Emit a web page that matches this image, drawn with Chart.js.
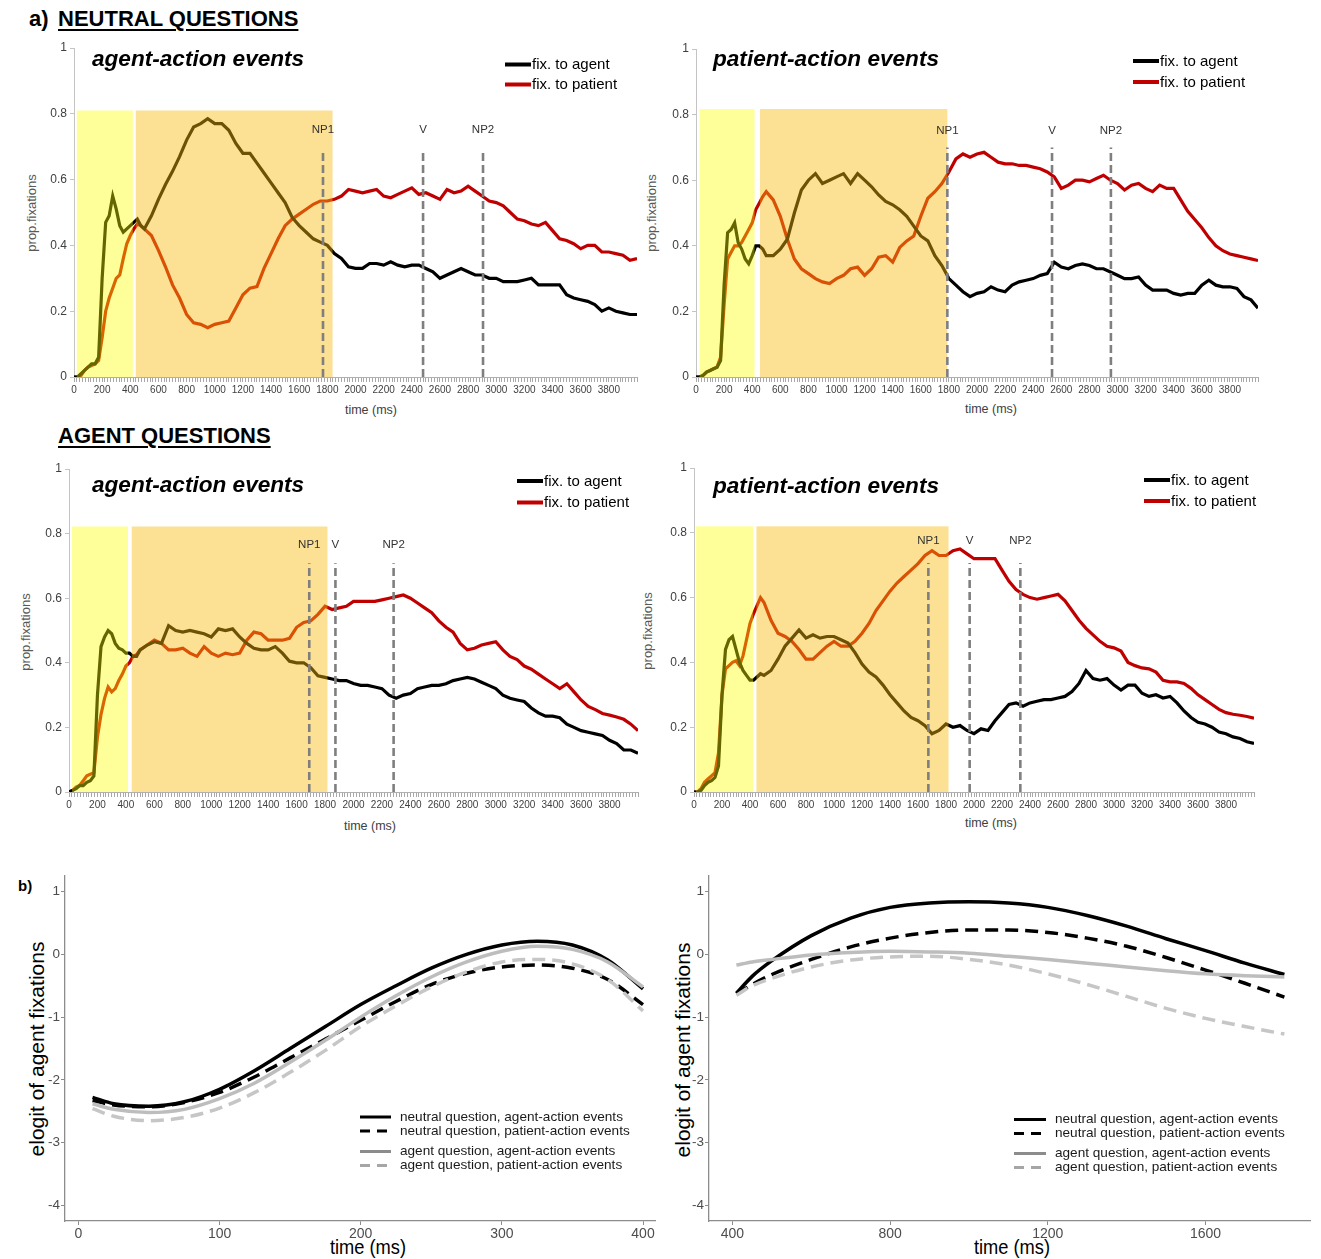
<!DOCTYPE html>
<html>
<head>
<meta charset="utf-8">
<script src="https://cdn.jsdelivr.net/npm/chart.js@4.4.1/dist/chart.umd.min.js"></script>
<style>
  html, body { margin: 0; padding: 0; background: #fff; }
  body { width: 1321px; height: 1259px; position: relative; overflow: hidden;
         font-family: "Liberation Sans", Arial, sans-serif; }
  .box { position: absolute; }
  .txt { position: absolute; white-space: nowrap; color: #000; line-height: 1.15; }
  .c { transform: translate(-50%, -50%); }
  .v { transform: translate(-50%, -50%) rotate(-90deg); }
  .head { font-weight: bold; font-size: 22px; }
  .u { text-decoration: underline; text-decoration-thickness: 2px; text-underline-offset: 3px; }
</style>
</head>
<body>

<div class="txt head" style="left:29px;top:6px;">a)</div>
<div class="txt head u" style="left:58px;top:6px;">NEUTRAL QUESTIONS</div>
<div class="txt head u" style="left:58px;top:423px;">AGENT QUESTIONS</div>
<div class="txt" style="left:18px;top:877px;font-weight:bold;font-size:15px;">b)</div>

<div class="txt v" style="left:32px;top:213px;font-size:13px;color:#595959;">prop.fixations</div>
<div class="txt v" style="left:652px;top:213px;font-size:13px;color:#595959;">prop.fixations</div>
<div class="txt v" style="left:26px;top:632px;font-size:13px;color:#595959;">prop.fixations</div>
<div class="txt v" style="left:648px;top:631px;font-size:13px;color:#595959;">prop.fixations</div>

<div class="txt c" style="left:371px;top:410px;font-size:12.5px;color:#404040;">time (ms)</div>
<div class="txt c" style="left:991px;top:409px;font-size:12.5px;color:#404040;">time (ms)</div>
<div class="txt c" style="left:370px;top:826px;font-size:12.5px;color:#404040;">time (ms)</div>
<div class="txt c" style="left:991px;top:823px;font-size:12.5px;color:#404040;">time (ms)</div>

<div class="txt v" style="left:37px;top:1049px;font-size:21px;">elogit of agent fixations</div>
<div class="txt v" style="left:683px;top:1050px;font-size:21px;">elogit of agent fixations</div>
<div class="txt c" style="left:368px;top:1247px;font-size:21px;transform:translate(-50%,-50%) scaleX(0.87);">time (ms)</div>
<div class="txt c" style="left:1012px;top:1247px;font-size:21px;transform:translate(-50%,-50%) scaleX(0.87);">time (ms)</div>

<div id="p1" class="box"><canvas></canvas></div>
<div id="p2" class="box"><canvas></canvas></div>
<div id="p3" class="box"><canvas></canvas></div>
<div id="p4" class="box"><canvas></canvas></div>
<div id="b1" class="box"><canvas></canvas></div>
<div id="b2" class="box"><canvas></canvas></div>

<script>
// ---------- time grid of the fixation curves (ms) ----------
const timeMs = [0,25,50,75,100,125,150,175,200,225,250,275,300,325,350,375,400,425,450,475,500,
  550,600,650,700,750,800,850,900,950,1000,
  1050,1100,1150,1200,1250,1300,1350,1400,1450,1500,
  1550,1600,1650,1700,1750,1800,1850,1900,1950,2000,
  2050,2100,2150,2200,2250,2300,2350,2400,2450,2500,
  2550,2600,2650,2700,2750,2800,2850,2900,2950,3000,
  3050,3100,3150,3200,3250,3300,3350,3400,3450,3500,
  3550,3600,3650,3700,3750,3800,3850,3900,3950,4000];

// ---------- neutral questions, agent-action events ----------
const nqAgentEvtToAgent = [0,0,0.01,0.02,0.03,0.04,0.04,0.06,0.30,0.47,0.49,0.55,0.51,0.46,0.44,0.45,0.46,0.47,0.48,0.46,0.45,
  0.49,0.54,0.585,0.625,0.67,0.72,0.76,0.77,0.785,0.77,
  0.77,0.75,0.71,0.68,0.68,0.65,0.62,0.59,0.56,0.53,
  0.485,0.46,0.44,0.42,0.41,0.40,0.375,0.36,0.335,0.33,
  0.33,0.345,0.345,0.34,0.35,0.34,0.335,0.34,0.34,0.33,
  0.32,0.30,0.31,0.32,0.33,0.32,0.31,0.31,0.30,0.30,
  0.29,0.29,0.29,0.295,0.30,0.28,0.28,0.28,0.28,0.25,
  0.24,0.235,0.23,0.22,0.20,0.21,0.20,0.195,0.19,0.19];
const nqAgentEvtToPatient = [0,0,0.005,0.02,0.03,0.035,0.04,0.05,0.12,0.20,0.24,0.27,0.30,0.31,0.36,0.405,0.43,0.45,0.465,0.46,0.45,
  0.43,0.385,0.335,0.28,0.24,0.19,0.165,0.16,0.15,0.16,
  0.165,0.17,0.21,0.25,0.27,0.275,0.33,0.375,0.42,0.46,
  0.48,0.495,0.51,0.525,0.535,0.535,0.54,0.55,0.57,0.565,
  0.56,0.565,0.57,0.55,0.545,0.555,0.565,0.575,0.555,0.56,
  0.55,0.54,0.57,0.56,0.565,0.58,0.565,0.55,0.535,0.53,
  0.52,0.50,0.48,0.475,0.465,0.46,0.47,0.445,0.42,0.415,
  0.405,0.39,0.40,0.40,0.38,0.38,0.375,0.37,0.355,0.36];

// ---------- neutral questions, patient-action events ----------
const nqPatientEvtToAgent = [0,0,0.005,0.015,0.02,0.025,0.03,0.05,0.28,0.44,0.45,0.47,0.41,0.39,0.36,0.345,0.37,0.40,0.40,0.39,0.37,
  0.37,0.39,0.42,0.50,0.57,0.60,0.62,0.59,0.60,0.61,
  0.62,0.59,0.62,0.60,0.58,0.555,0.535,0.525,0.51,0.49,
  0.46,0.43,0.415,0.37,0.34,0.30,0.28,0.26,0.245,0.255,
  0.26,0.275,0.265,0.26,0.28,0.29,0.295,0.30,0.31,0.315,
  0.35,0.335,0.33,0.34,0.345,0.34,0.33,0.33,0.32,0.31,
  0.30,0.30,0.305,0.28,0.265,0.265,0.265,0.255,0.25,0.255,
  0.255,0.28,0.295,0.28,0.275,0.275,0.27,0.245,0.235,0.21];
const nqPatientEvtToPatient = [0,0,0.005,0.015,0.02,0.025,0.03,0.06,0.22,0.36,0.38,0.40,0.40,0.41,0.43,0.45,0.47,0.51,0.53,0.55,0.565,
  0.54,0.49,0.42,0.36,0.33,0.315,0.30,0.29,0.285,0.30,
  0.31,0.33,0.335,0.31,0.33,0.365,0.37,0.35,0.395,0.415,
  0.43,0.49,0.545,0.565,0.59,0.625,0.665,0.68,0.67,0.68,
  0.685,0.67,0.655,0.65,0.65,0.645,0.645,0.64,0.635,0.625,
  0.61,0.575,0.585,0.60,0.60,0.595,0.605,0.615,0.60,0.59,
  0.57,0.585,0.59,0.575,0.565,0.585,0.575,0.575,0.54,0.505,
  0.48,0.455,0.425,0.40,0.385,0.375,0.37,0.365,0.36,0.355];

// ---------- agent questions, agent-action events ----------
const aqAgentEvtToAgent = [0,0.005,0.01,0.02,0.02,0.03,0.035,0.05,0.30,0.45,0.48,0.50,0.49,0.46,0.445,0.44,0.43,0.43,0.42,0.42,0.44,
  0.455,0.465,0.46,0.515,0.50,0.495,0.50,0.495,0.49,0.48,
  0.505,0.50,0.505,0.48,0.46,0.445,0.44,0.44,0.45,0.43,
  0.405,0.40,0.40,0.385,0.36,0.355,0.35,0.345,0.345,0.336,
  0.33,0.33,0.325,0.32,0.30,0.29,0.30,0.305,0.32,0.325,
  0.33,0.33,0.335,0.345,0.35,0.355,0.35,0.34,0.33,0.32,
  0.30,0.29,0.285,0.28,0.26,0.245,0.235,0.235,0.23,0.21,
  0.20,0.19,0.185,0.18,0.175,0.16,0.15,0.13,0.13,0.12];
const aqAgentEvtToPatient = [0,0.005,0.015,0.02,0.035,0.05,0.055,0.06,0.17,0.24,0.29,0.325,0.31,0.32,0.345,0.365,0.39,0.40,0.42,0.425,0.44,
  0.455,0.47,0.46,0.44,0.44,0.445,0.43,0.42,0.45,0.43,
  0.42,0.43,0.425,0.43,0.47,0.495,0.49,0.47,0.47,0.47,
  0.476,0.51,0.525,0.53,0.55,0.575,0.565,0.57,0.575,0.59,
  0.59,0.59,0.59,0.595,0.60,0.605,0.61,0.60,0.585,0.57,
  0.555,0.53,0.51,0.495,0.46,0.44,0.445,0.455,0.46,0.465,
  0.44,0.42,0.41,0.39,0.38,0.365,0.35,0.335,0.32,0.335,
  0.31,0.285,0.265,0.255,0.243,0.238,0.232,0.225,0.21,0.19];

// ---------- agent questions, patient-action events ----------
const aqPatientEvtToAgent = [0,0,0.005,0.02,0.03,0.035,0.045,0.08,0.30,0.44,0.47,0.48,0.44,0.40,0.375,0.36,0.345,0.345,0.355,0.365,0.36,
  0.375,0.41,0.45,0.475,0.50,0.475,0.485,0.475,0.48,0.48,
  0.47,0.46,0.43,0.395,0.37,0.355,0.33,0.30,0.275,0.25,
  0.23,0.22,0.205,0.18,0.19,0.21,0.20,0.205,0.19,0.18,
  0.195,0.19,0.22,0.245,0.27,0.275,0.265,0.275,0.28,0.285,
  0.285,0.29,0.295,0.31,0.335,0.375,0.35,0.345,0.35,0.33,
  0.315,0.33,0.33,0.305,0.295,0.30,0.29,0.295,0.275,0.25,
  0.23,0.215,0.21,0.20,0.185,0.18,0.17,0.165,0.155,0.15];
const aqPatientEvtToPatient = [0,0,0.01,0.03,0.04,0.05,0.06,0.12,0.30,0.38,0.39,0.40,0.405,0.39,0.42,0.47,0.52,0.55,0.575,0.60,0.585,
  0.53,0.49,0.48,0.465,0.44,0.41,0.41,0.43,0.45,0.465,
  0.45,0.45,0.465,0.49,0.52,0.56,0.59,0.62,0.645,0.665,
  0.685,0.705,0.73,0.745,0.73,0.73,0.745,0.75,0.735,0.72,
  0.72,0.72,0.72,0.685,0.65,0.625,0.61,0.60,0.595,0.60,
  0.605,0.61,0.59,0.56,0.53,0.505,0.485,0.465,0.45,0.445,
  0.435,0.40,0.39,0.383,0.38,0.37,0.345,0.34,0.34,0.335,
  0.32,0.30,0.285,0.27,0.255,0.245,0.24,0.237,0.233,0.228];

// ---------- analysis windows (ms) and sentence-region onsets (ms) ----------
const nqAgentWindows   = [[20, 418], [439, 1837]];
const nqPatientWindows = [[25, 417], [455, 1789]];
const aqAgentWindows   = [[21, 415], [441, 1817]];
const aqPatientWindows = [[15, 422], [446, 1818]];
const onsetLabels = ['NP1', 'V', 'NP2'];
const nqAgentOnsets   = [1769, 2480, 2906];
const nqPatientOnsets = [1789, 2534, 2953];
const aqAgentOnsets   = [1689, 1873, 2282];
const aqPatientOnsets = [1674, 1969, 2331];

// ---------- axis ticks ----------
const propTicks = [0, 0.2, 0.4, 0.6, 0.8, 1];
const timeTickLabels = [0,200,400,600,800,1000,1200,1400,1600,1800,2000,2200,2400,2600,2800,3000,3200,3400,3600,3800];
const elogitTicks = [-4, -3, -2, -1, 0, 1];
const earlyTimeTicks = [0, 100, 200, 300, 400];
const lateTimeTicks = [400, 800, 1200, 1600];

// ---------- model curves: elogit of agent fixations ----------
const earlyTime = [10,25,50,75,100,125,150,175,200,225,250,275,300,325,350,375,400];
const earlyNqAgentEvt   = [-2.28,-2.38,-2.42,-2.35,-2.15,-1.85,-1.50,-1.15,-0.80,-0.50,-0.22,0.00,0.15,0.21,0.15,-0.09,-0.55];
const earlyNqPatientEvt = [-2.33,-2.40,-2.43,-2.36,-2.20,-1.95,-1.65,-1.35,-1.05,-0.75,-0.48,-0.30,-0.20,-0.17,-0.22,-0.40,-0.80];
const earlyAqAgentEvt   = [-2.38,-2.47,-2.52,-2.47,-2.30,-2.05,-1.72,-1.37,-1.00,-0.66,-0.36,-0.12,0.05,0.13,0.08,-0.12,-0.52];
const earlyAqPatientEvt = [-2.46,-2.58,-2.65,-2.60,-2.45,-2.20,-1.88,-1.53,-1.15,-0.82,-0.52,-0.28,-0.12,-0.08,-0.15,-0.40,-0.90];

const lateTime = [410,450,500,600,700,800,900,1000,1100,1200,1300,1400,1500,1600,1700,1800];
const lateNqAgentEvt   = [-0.62,-0.35,-0.10,0.30,0.58,0.75,0.82,0.84,0.82,0.75,0.62,0.45,0.25,0.06,-0.14,-0.32];
const lateNqPatientEvt = [-0.63,-0.48,-0.32,-0.08,0.12,0.26,0.35,0.39,0.39,0.35,0.26,0.13,-0.05,-0.25,-0.46,-0.68];
const lateAqAgentEvt   = [-0.17,-0.12,-0.08,-0.01,0.03,0.05,0.04,0.02,-0.03,-0.08,-0.14,-0.20,-0.26,-0.31,-0.34,-0.36];
const lateAqPatientEvt = [-0.65,-0.50,-0.38,-0.20,-0.09,-0.04,-0.03,-0.08,-0.17,-0.31,-0.48,-0.67,-0.86,-1.02,-1.15,-1.27];

// ---------- drawing helpers ----------
const SANS = '"Liberation Sans", Arial, sans-serif';
const BLACK = '#000000';
const RED = '#c00000';

function placeBox(id, plot, yW, xH, padT, padR) {
  const el = document.getElementById(id);
  const left = plot.l - yW, top = plot.t - padT;
  el.style.left = left + 'px';
  el.style.top = top + 'px';
  el.style.width = (plot.r - plot.l + yW + padR) + 'px';
  el.style.height = (plot.b - plot.t + padT + xH) + 'px';
  return { left, top };
}

// Overlays for the fixation panels: tinted analysis windows, onset markers, title, legend.
function fixationDecor(origin, cfg) {
  return {
    id: 'fixationDecor',
    afterDatasetsDraw(chart) {
      const { ctx, chartArea: a, scales: { x, y } } = chart;
      ctx.save();
      ctx.beginPath();
      ctx.rect(a.left, a.top, a.right - a.left, a.bottom - a.top);
      ctx.clip();
      cfg.windows.forEach((w, i) => {
        const x0 = x.getPixelForValue(w[0]), x1 = x.getPixelForValue(w[1]);
        const y0 = y.getPixelForValue(cfg.windowTop), y1 = y.getPixelForValue(0);
        ctx.fillStyle = i === 0 ? 'rgba(255,255,0,0.40)' : 'rgba(248,184,9,0.44)';
        ctx.fillRect(x0, y0, x1 - x0, y1 - y0);
      });
      ctx.restore();

      ctx.save();
      ctx.strokeStyle = '#7f7f7f';
      ctx.lineWidth = 2.6;
      ctx.setLineDash([8, 4]);
      ctx.font = '11.5px ' + SANS;
      ctx.textAlign = 'center';
      ctx.textBaseline = 'middle';
      cfg.onsets.forEach((t, i) => {
        const px = x.getPixelForValue(t);
        ctx.beginPath();
        ctx.moveTo(px, y.getPixelForValue(0));
        ctx.lineTo(px, y.getPixelForValue(cfg.markerTop));
        ctx.stroke();
        ctx.fillStyle = '#333333';
        ctx.fillText(onsetLabels[i], px, y.getPixelForValue(cfg.labelAt));
      });
      ctx.restore();

      ctx.save();
      ctx.fillStyle = '#000';
      ctx.font = 'italic bold 22.6px ' + SANS;
      ctx.textBaseline = 'alphabetic';
      ctx.fillText(cfg.title, cfg.titleAt[0] - origin.left, cfg.titleAt[1] - origin.top);
      ctx.font = '15px ' + SANS;
      ctx.textBaseline = 'middle';
      chart.data.datasets.forEach((ds, i) => {
        const lx = cfg.legendAt[0] - origin.left;
        const ly = cfg.legendAt[1] + i * cfg.legendRow - origin.top;
        ctx.strokeStyle = ds.borderColor;
        ctx.lineWidth = 4;
        ctx.beginPath();
        ctx.moveTo(lx, ly);
        ctx.lineTo(lx + 26, ly);
        ctx.stroke();
        ctx.fillStyle = '#000';
        ctx.fillText(ds.label, lx + 27, ly + 0.5);
      });
      ctx.restore();
    }
  };
}

function fixationChart(id, plot, toAgent, toPatient, cfg) {
  const yW = 45, xH = 40, padT = 12, padR = 12;
  const origin = placeBox(id, plot, yW, xH, padT, padR);
  const canvas = document.querySelector('#' + id + ' canvas');
  return new Chart(canvas, {
    type: 'line',
    data: {
      labels: timeMs,
      datasets: [
        { label: 'fix. to agent', data: toAgent, borderColor: BLACK, borderWidth: 3.2, pointRadius: 0, tension: 0 },
        { label: 'fix. to patient', data: toPatient, borderColor: RED, borderWidth: 3.2, pointRadius: 0, tension: 0 }
      ]
    },
    options: {
      responsive: true, maintainAspectRatio: false, animation: false,
      layout: { padding: { top: padT, right: padR, left: 0, bottom: 0 } },
      plugins: { legend: { display: false }, tooltip: { enabled: false } },
      scales: {
        x: {
          type: 'linear', min: 0, max: 4000,
          afterFit: s => { s.height = xH; },
          afterBuildTicks: s => {
            const t = [];
            for (let v = 0; v <= 4000; v += 20) t.push({ value: v });
            s.ticks = t;
          },
          border: { color: '#b0b0b0', width: 1 },
          grid: { drawOnChartArea: false, tickLength: 5, color: '#a8a8a8', lineWidth: 1 },
          ticks: {
            autoSkip: false, maxRotation: 0, minRotation: 0, padding: 2,
            color: '#404040', font: { family: SANS, size: 10 },
            callback: v => (timeTickLabels.includes(v) ? String(v) : '')
          }
        },
        y: {
          min: 0, max: 1,
          afterFit: s => { s.width = yW; },
          afterBuildTicks: s => { s.ticks = propTicks.map(v => ({ value: v })); },
          border: { color: '#c4c4c4', width: 1 },
          grid: { drawOnChartArea: false, tickLength: 4, color: '#c4c4c4' },
          ticks: { padding: 3, color: '#404040', font: { family: SANS, size: 12 }, callback: v => String(v) }
        }
      }
    },
    plugins: [fixationDecor(origin, cfg)]
  });
}

// Legend for the model-curve panels, drawn inside the plotting area.
function curveLegend(origin, cfg) {
  return {
    id: 'curveLegend',
    afterDatasetsDraw(chart) {
      const { ctx } = chart;
      ctx.save();
      ctx.font = '13.6px ' + SANS;
      ctx.textBaseline = 'middle';
      cfg.order.forEach((di, row) => {
        const ds = chart.data.datasets[di];
        const lx = cfg.at[0] - origin.left;
        const ly = cfg.rows[row] - origin.top;
        ctx.strokeStyle = cfg.keyColors[row];
        ctx.lineWidth = 3;
        ctx.setLineDash(ds.borderDash && ds.borderDash.length ? [10, 7] : []);
        ctx.beginPath();
        ctx.moveTo(lx, ly);
        ctx.lineTo(lx + cfg.keyLen, ly);
        ctx.stroke();
        ctx.fillStyle = '#1a1a1a';
        ctx.fillText(ds.label, lx + cfg.textOffset, ly);
      });
      ctx.restore();
    }
  };
}

function curveChart(id, plot, xs, series, xRange, xTicks, cfg) {
  const yW = 42, xH = 30, padT = 10, padR = 5;
  const origin = placeBox(id, plot, yW, xH, padT, padR);
  const canvas = document.querySelector('#' + id + ' canvas');
  const dash = [13, 7];
  const mk = (label, data, color, dashed) => ({
    label, data: xs.map((t, i) => ({ x: t, y: data[i] })), borderColor: color,
    borderWidth: 3.5, borderDash: dashed ? dash : [], pointRadius: 0, tension: 0.4,
    cubicInterpolationMode: 'monotone', borderCapStyle: 'butt'
  });
  return new Chart(canvas, {
    type: 'line',
    data: {
      datasets: [
        mk('agent question, patient-action events', series[3], '#c6c6c6', true),
        mk('agent question, agent-action events', series[2], '#bdbdbd', false),
        mk('neutral question, patient-action events', series[1], BLACK, true),
        mk('neutral question, agent-action events', series[0], BLACK, false)
      ]
    },
    options: {
      responsive: true, maintainAspectRatio: false, animation: false,
      layout: { padding: { top: padT, right: padR, left: 0, bottom: 0 } },
      plugins: { legend: { display: false }, tooltip: { enabled: false } },
      scales: {
        x: {
          type: 'linear', min: xRange[0], max: xRange[1],
          afterFit: s => { s.height = xH; },
          afterBuildTicks: s => { s.ticks = xTicks.map(v => ({ value: v })); },
          border: { color: '#8c8c8c', width: 1.3 },
          grid: { drawOnChartArea: false, tickLength: 4, color: '#8c8c8c' },
          ticks: { padding: 1, maxRotation: 0, color: '#4d4d4d', font: { family: SANS, size: 14 },
                   callback: v => String(v) }
        },
        y: {
          min: -4.25, max: 1.25,
          afterFit: s => { s.width = yW; },
          afterBuildTicks: s => { s.ticks = elogitTicks.map(v => ({ value: v })); },
          border: { color: '#8c8c8c', width: 1.3 },
          grid: { drawOnChartArea: false, tickLength: 4, color: '#8c8c8c' },
          ticks: { padding: 1, color: '#4d4d4d', font: { family: SANS, size: 13.5 },
                   callback: v => String(v) }
        }
      }
    },
    plugins: [curveLegend(origin, cfg)]
  });
}

// ---------- panels ----------
fixationChart('p1', { l: 74, r: 637, t: 48, b: 377 }, nqAgentEvtToAgent, nqAgentEvtToPatient, {
  windows: nqAgentWindows, windowTop: 0.81, onsets: nqAgentOnsets, markerTop: 0.693, labelAt: 0.75,
  title: 'agent-action events', titleAt: [92, 66], legendAt: [505, 64.5], legendRow: 20
});
fixationChart('p2', { l: 696, r: 1258, t: 49, b: 377 }, nqPatientEvtToAgent, nqPatientEvtToPatient, {
  windows: nqPatientWindows, windowTop: 0.817, onsets: nqPatientOnsets, markerTop: 0.70, labelAt: 0.75,
  title: 'patient-action events', titleAt: [713, 66], legendAt: [1133, 61], legendRow: 21
});
fixationChart('p3', { l: 69, r: 638, t: 469, b: 792 }, aqAgentEvtToAgent, aqAgentEvtToPatient, {
  windows: aqAgentWindows, windowTop: 0.822, onsets: aqAgentOnsets, markerTop: 0.708, labelAt: 0.765,
  title: 'agent-action events', titleAt: [92, 492], legendAt: [517, 481], legendRow: 21.5
});
fixationChart('p4', { l: 694, r: 1254, t: 468, b: 792 }, aqPatientEvtToAgent, aqPatientEvtToPatient, {
  windows: aqPatientWindows, windowTop: 0.82, onsets: aqPatientOnsets, markerTop: 0.707, labelAt: 0.774,
  title: 'patient-action events', titleAt: [713, 493], legendAt: [1144, 480], legendRow: 21
});

curveChart('b1', { l: 65, r: 655, t: 876, b: 1221 }, earlyTime,
  [earlyNqAgentEvt, earlyNqPatientEvt, earlyAqAgentEvt, earlyAqPatientEvt],
  [-9.5, 408.5], earlyTimeTicks, {
    order: [3, 2, 1, 0], keyColors: ['#000', '#000', '#8c8c8c', '#a6a6a6'],
    at: [360, 0], rows: [1117, 1131, 1151.5, 1165.5], keyLen: 31, textOffset: 40
  });
curveChart('b2', { l: 709, r: 1310, t: 876, b: 1221 }, lateTime,
  [lateNqAgentEvt, lateNqPatientEvt, lateAqAgentEvt, lateAqPatientEvt],
  [340.5, 1865], lateTimeTicks, {
    order: [3, 2, 1, 0], keyColors: ['#000', '#000', '#8c8c8c', '#a6a6a6'],
    at: [1014, 0], rows: [1119.5, 1133.5, 1153.5, 1167.5], keyLen: 32, textOffset: 41
  });
</script>
</body>
</html>
